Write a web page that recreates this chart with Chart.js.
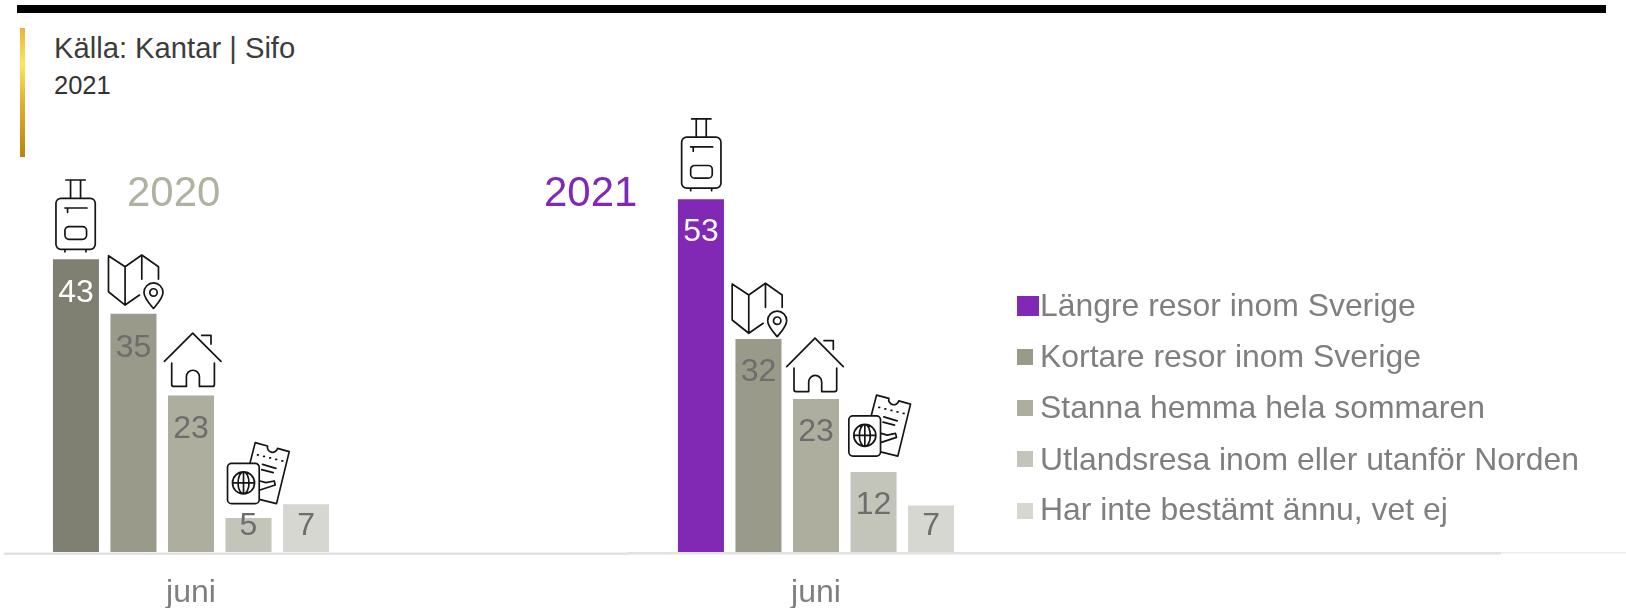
<!DOCTYPE html>
<html>
<head>
<meta charset="utf-8">
<title>Sommarresor</title>
<script src="https://cdn.jsdelivr.net/npm/chart.js@4"></script>
<style>
  html, body { margin: 0; padding: 0; background: #fff; }
  body { width: 1626px; height: 608px; position: relative; overflow: hidden; font-family: "Liberation Sans", Arial, sans-serif; }
  .abs { position: absolute; white-space: nowrap; }
  #topBar { left: 17px; top: 5px; width: 1589px; height: 8px; background: #000; }
  #goldBar { left: 20px; top: 28px; width: 5px; height: 129px; background: linear-gradient(#e8b53a, #fde55c 28%, #dcae2e 60%, #b8860b); }
  #source { left: 54px; top: 32px; font-size: 29.2px; line-height: 32px; color: #3c3c3c; }
  #year { left: 54px; top: 70px; font-size: 25.5px; line-height: 30px; color: #333; }
  .yearTitle { font-size: 42px; line-height: 48px; top: 168px; }
  #title2020 { left: 127px; color: #b0b1a1; }
  #title2021 { left: 544px; color: #8128b5; }
  canvas { position: absolute; top: 100px; }
  #chart2020 { left: 4px; }
  #chart2021 { left: 628px; }
  .swatch { position: absolute; }
  .legendText { font-size: 31.9px; line-height: 36px; color: #7f7f7f; left: 1040px; }
</style>
</head>
<body>
<div class="abs" id="topBar"></div>
<div class="abs" id="goldBar"></div>
<div class="abs" id="source">Källa: Kantar | Sifo</div>
<div class="abs" id="year">2021</div>
<canvas id="chart2020" width="624" height="508"></canvas>
<canvas id="chart2021" width="998" height="508"></canvas>
<div class="abs yearTitle" id="title2020">2020</div>
<div class="abs yearTitle" id="title2021">2021</div>
<div id="legend"></div>
<script>
const months = ["juni"];
const seriesNames = [
  "Längre resor inom Sverige",
  "Kortare resor inom Sverige",
  "Stanna hemma hela sommaren",
  "Utlandsresa inom eller utanför Norden",
  "Har inte bestämt ännu, vet ej"
];
const values2020 = [43, 35, 23, 5, 7];
const values2021 = [53, 32, 23, 12, 7];
const colors2020 = ["#808072", "#999a8a", "#adae9e", "#c3c4ba", "#d6d7d1"];
const colors2021 = ["#8128b5", "#999a8a", "#adae9e", "#c3c4ba", "#d6d7d1"];
const labelColors2020 = ["#ffffff", "#6d6d6d", "#6d6d6d", "#6d6d6d", "#6d6d6d"];
const labelColors2021 = ["#ffffff", "#6d6d6d", "#6d6d6d", "#6d6d6d", "#6d6d6d"];

// icon outlines, origin is the middle of the bar top
const suitcase = "M-14.3 -64H15a5 5 0 0 1 5 5V-18a5 5 0 0 1 -5 5H-14.3a5 5 0 0 1 -5 -5V-59a5 5 0 0 1 5 -5Z" +
  "M-9.3 -82.3H10M-4.7 -82.3V-64M5.3 -82.3V-64M-10.3 -54.3H11.7M-7.7 -54.3V-50" +
  "M-6.3 -35.7H7.3a4 4 0 0 1 4 4V-27a4 4 0 0 1 -4 4H-6.3a4 4 0 0 1 -4 -4V-31.7a4 4 0 0 1 4 -4Z" +
  "M-10.3 -13V-10.5M10.7 -13V-10.5";
const mapPin = "M-26.3 -55L-9.7 -44L7 -55.7L23.7 -44V-31.7M-9.7 -44V-5.7M7 -55.7V-31.7" +
  "M-26.3 -55V-19L-9.7 -5.7L4.7 -15.7" +
  "M18.7 -2.3C14 -8 9.2 -13 9.2 -18.3A9.5 9.5 0 0 1 28.2 -18.3C28.2 -13 23.4 -8 18.7 -2.3Z" +
  "M22.4 -18.3A3.7 3.7 0 1 1 15 -18.3A3.7 3.7 0 1 1 22.4 -18.3Z";
const house = "M-29.3 -32.3L-1 -60.7L27.3 -32.3M8 -58.3H17.3V-49.7" +
  "M-22 -30.7V-9.3q0 2 2 2H-7.3V-17a6.5 6.5 0 0 1 13 0V-7.3H18.7q2 0 2 -2V-30.7";
const tickets = "M-20.7 -56.3H3a4 4 0 0 1 4 4V-20a4 4 0 0 1 -4 4H-20.7a4 4 0 0 1 -4 -4V-52.3a4 4 0 0 1 4 -4Z" +
  "M2.3 -36.7A11 11 0 1 1 -19.7 -36.7A11 11 0 1 1 2.3 -36.7ZM-19.7 -36.7H2.3M-8.7 -47.7V-25.7" +
  "M-8.7 -47.7A5.5 11 0 0 1 -8.7 -25.7A5.5 11 0 0 1 -8.7 -47.7Z" +
  "M-2.3 -56.3L3 -77L15.3 -73.7A5 5 0 0 0 25.3 -71.3L37 -68L24.3 -16L7 -20.3" +
  "M10.3 -55.3L23.7 -51.3M9.5 -50L21 -47M7.7 -38.7L13.7 -37L22 -38.7L23 -34.7L7.7 -29.7" +
  "M5.3 -64.7h.8M11.4 -63.2h.8M17.5 -61.7h.8M23.6 -60.2h.8M29.7 -58.7h.8";
const iconPaths = [suitcase, mapPin, house, tickets, null];

// bar labels and icons follow the bar elements
const barExtras = {
  id: "barExtras",
  afterDatasetsDraw(chart, args, opts) {
    const ctx = chart.ctx;
    chart.data.datasets.forEach((ds, i) => {
      const bar = chart.getDatasetMeta(i).data[0];
      ctx.save();
      ctx.font = "32px 'Liberation Sans', Arial, sans-serif";
      ctx.fillStyle = opts.labelColors[i];
      ctx.textAlign = "center";
      ctx.textBaseline = "middle";
      const y = Math.min(bar.y + opts.labelDrop, bar.base - 26);
      ctx.fillText(String(ds.data[0]), bar.x, y);
      ctx.restore();

      if (iconPaths[i]) {
        const shift = opts.iconShift[i];
        ctx.save();
        ctx.translate(bar.x + shift[0], bar.y + shift[1]);
        ctx.strokeStyle = "#151515";
        ctx.lineWidth = 1.7;
        ctx.lineCap = "round";
        ctx.lineJoin = "round";
        ctx.stroke(new Path2D(iconPaths[i]));
        ctx.restore();
      }
    });
  }
};

const baseLine = {
  id: "baseLine",
  afterDraw(chart, args, opts) {
    const ctx = chart.ctx;
    const y = chart.chartArea.bottom + opts.offset;
    ctx.save();
    ctx.fillStyle = "#e2e2e2";
    ctx.fillRect(0, y, opts.thickEnd, 2.5);
    if (opts.thickEnd < chart.width) {
      ctx.fillStyle = "#ececec";
      ctx.fillRect(opts.thickEnd, y, chart.width - opts.thickEnd, 1.5);
    }
    ctx.restore();
  }
};

function makeChart(id, values, colors, labelColors, yMax, catPct, padRight, iconShift, lineOffset, labelDrop) {
  return new Chart(document.getElementById(id), {
    type: "bar",
    data: {
      labels: months,
      datasets: values.map((v, i) => ({
        label: seriesNames[i],
        data: [v],
        backgroundColor: colors[i],
        barPercentage: 0.8,
        categoryPercentage: catPct
      }))
    },
    options: {
      responsive: false,
      animation: false,
      layout: { padding: { left: 0, right: padRight, top: 0, bottom: 0 } },
      plugins: {
        legend: { display: false },
        tooltip: { enabled: false },
        barExtras: { labelColors, iconShift, labelDrop },
        baseLine: { offset: lineOffset, thickEnd: id === "chart2021" ? 873 : 624 }
      },
      scales: {
        x: {
          grid: { display: false, drawTicks: false },
          border: { display: false },
          ticks: {
            color: "#7f7f7f",
            padding: 22,
            font: { family: "'Liberation Sans', Arial, sans-serif", size: 32 }
          },
          afterFit(scale) { scale.height = 56; }
        },
        y: { display: false, min: 0, max: yMax }
      }
    },
    plugins: [barExtras, baseLine]
  });
}

makeChart("chart2020", values2020, colors2020, labelColors2020, 66.4, 0.769, 250,
  [[-0.7, 3], [1.3, -3], [2.7, -1.7], [3.7, 1.7], [0, 0]], 0.5, 34);
makeChart("chart2021", values2021, colors2021, labelColors2021, 67.9, 0.765, 622,
  [[0, 2], [0, 0], [0, 0], [0, 0], [0, 0]], 0, 33);

// legend, first swatch is the highlighted series
const legendBox = document.getElementById("legend");
const legendTops = [296, 349, 400, 451, 503];
const legendTextTops = [287, 338, 389, 441, 491];
seriesNames.forEach((name, i) => {
  const sw = document.createElement("div");
  sw.className = "swatch";
  sw.style.left = "1017px";
  sw.style.top = legendTops[i] + "px";
  sw.style.width = (i === 0 ? 22 : 16) + "px";
  sw.style.height = (i === 0 ? 20 : 16) + "px";
  sw.style.background = colors2021[i];
  legendBox.appendChild(sw);

  const txt = document.createElement("div");
  txt.className = "abs legendText";
  txt.style.top = legendTextTops[i] + "px";
  txt.textContent = name;
  legendBox.appendChild(txt);
});
</script>
</body>
</html>
